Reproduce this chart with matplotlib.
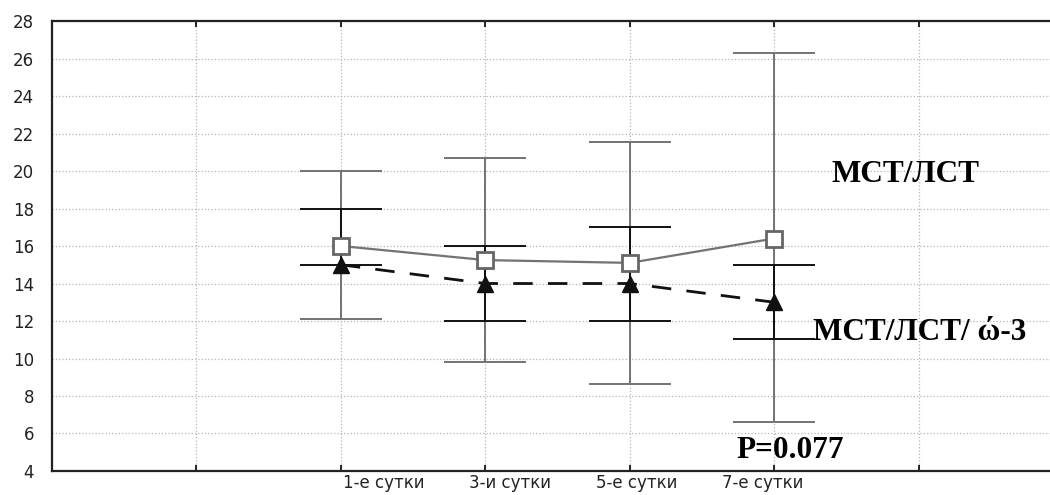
import numpy as np
import matplotlib
matplotlib.use("Agg")
import matplotlib.pyplot as plt

# ── Data ───────────────────────────────────────────────────────────────────────
categories = ["1-е сутки", "3-и сутки", "5-е сутки", "7-е сутки"]
cat_pos    = [2, 3, 4, 5]

# МСТ/ЛСТ (grey squares, solid line)
mct_mean  = [16.0, 15.25, 15.1, 16.4]
mct_upper = [20.0, 20.7, 21.55, 26.3]
mct_lower = [12.1, 9.8, 8.65, 6.6]

# МСТ/ЛСТ/ ώ-3 (black triangles, dashed line)
omg_mean  = [15.0, 14.0, 14.0, 13.0]
omg_upper = [18.0, 16.0, 17.0, 15.0]
omg_lower = [15.0, 12.0, 12.0, 11.05]

# where the category names sit under the axis (Statistica-style offset)
label_pos = [2.30, 3.17, 4.05, 4.92]

GREY  = "#737373"
BLACK = "#111111"

# ── Plot ───────────────────────────────────────────────────────────────────────
fig = plt.figure(figsize=(10.5, 4.95), dpi=100)
ax = fig.add_axes([0.0495, 0.0485, 0.9505, 0.909])

m_mean = np.array(mct_mean)
o_mean = np.array(omg_mean)

ax.errorbar(cat_pos, m_mean,
            yerr=[m_mean - np.array(mct_lower), np.array(mct_upper) - m_mean],
            fmt="none", ecolor=GREY, elinewidth=1.4, capsize=29.5,
            capthick=1.4, zorder=3)
ax.errorbar(cat_pos, o_mean,
            yerr=[o_mean - np.array(omg_lower), np.array(omg_upper) - o_mean],
            fmt="none", ecolor=BLACK, elinewidth=1.4, capsize=29.5,
            capthick=1.4, zorder=4)

ax.plot(cat_pos, m_mean, color=GREY, lw=1.6, marker="s", ms=11,
        mfc="white", mec="#666666", mew=2, zorder=5)
line, = ax.plot(cat_pos, o_mean, color=BLACK, lw=2, ls="--", marker="^",
                ms=12, mfc=BLACK, mec=BLACK, zorder=6)
line.set_dashes((7, 5.5))

ax.set_xlim(0, 6.91)
ax.set_ylim(4, 28)
ax.set_yticks(np.arange(4, 29, 2))
ax.set_xticks(range(1, 7))
ax.set_xticklabels([])
ax.tick_params(axis="x", direction="in", length=4, width=1.2,
               top=True, bottom=True)
ax.tick_params(axis="y", direction="in", length=0, labelsize=12,
               pad=13, labelcolor="#222222")
ax.grid(True, ls=":", color="#b5b5b5", lw=0.9)

for s in ["top", "left", "bottom"]:
    ax.spines[s].set_linewidth(1.6)
    ax.spines[s].set_color("#222222")
ax.spines["right"].set_visible(False)

trans = ax.get_xaxis_transform()
for x, lab in zip(label_pos, categories):
    ax.text(x, -0.038, lab, transform=trans, ha="center", va="baseline",
            fontsize=12, color="#222222")

serif = dict(family="Liberation Serif", fontweight="bold", fontsize=22.5,
             color="black", va="center", ha="left", zorder=7)
ax.text(5.40, 19.8, "МСТ/ЛСТ", **serif)
ax.text(5.27, 11.4, "МСТ/ЛСТ/ ώ-3", **serif)
ax.text(4.74, 5.1, "P=0.077", **serif)

plt.savefig("out.png", dpi=100)
